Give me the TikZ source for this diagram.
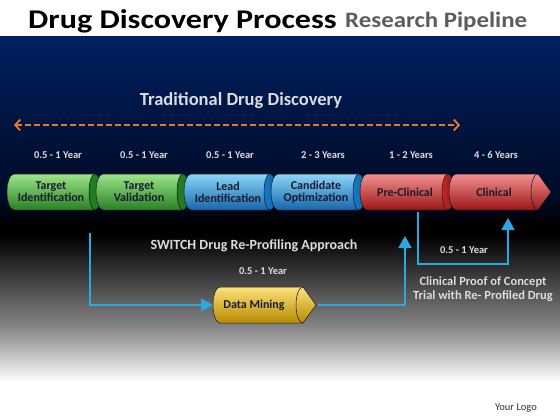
\documentclass[tikz,border=0pt]{standalone}
\usepackage{fontspec}
\setmainfont{Carlito}
\usetikzlibrary{arrows.meta,calc}
\definecolor{navy}{HTML}{002060}
\definecolor{navydark}{HTML}{000A24}
\definecolor{midgray}{HTML}{8A8A8A}
\definecolor{lighttext}{HTML}{DCDCDC}
\definecolor{cyltxt}{HTML}{1A1A30}
\definecolor{orangeline}{HTML}{E8792A}
\definecolor{bluelink}{HTML}{2AA9E1}
\definecolor{cylline}{HTML}{101820}
% colour schemes
\definecolor{grtop}{HTML}{9BE68A}\definecolor{grmid}{HTML}{5CC94A}\definecolor{grbot}{HTML}{2A7F24}\definecolor{grface}{HTML}{1E7A1E}
\definecolor{bltop}{HTML}{8AD6FA}\definecolor{blmid}{HTML}{3AA6E6}\definecolor{blbot}{HTML}{1766A8}\definecolor{blface}{HTML}{1478C8}
\definecolor{rdtop}{HTML}{F49090}\definecolor{rdmid}{HTML}{DE4040}\definecolor{rdbot}{HTML}{9A1616}\definecolor{rdface}{HTML}{C42626}
\definecolor{ydtop}{HTML}{FBE27A}\definecolor{ydmid}{HTML}{EDBB1E}\definecolor{ydbot}{HTML}{B88A00}\definecolor{ydface}{HTML}{E3AE12}
\newcommand{\cylseg}[4]{% x1, x2, cy, scheme
  \path[top color=#4top, middle color=#4mid, bottom color=#4bot, draw=cylline, line width=0.5pt]
    (#1+7,#3-18) -- (#2,#3-18) arc[start angle=-90,end angle=90,x radius=6,y radius=18]
    -- (#1+7,#3+18) arc[start angle=90,end angle=270,x radius=7,y radius=18] -- cycle;
  \path[left color=#4face, right color=#4bot, draw=cylline, line width=0.5pt] (#2,#3) ellipse[x radius=6,y radius=18];
}
\newcommand{\cylpoint}[4]{% x1, x2, cy, scheme
  \path[top color=#4top, middle color=#4mid, bottom color=#4bot, draw=cylline, line width=0.5pt]
    (#1+7,#3-18) -- (#2+3,#3-18) -- (#2+16,#3) -- (#2+3,#3+18)
    -- (#1+7,#3+18) arc[start angle=90,end angle=270,x radius=7,y radius=18] -- cycle;
  \draw[cylline, line width=0.5pt] (#2+3,#3-18) arc[start angle=-90,end angle=-270,x radius=7,y radius=18];
}
\tikzset{
  cyltext/.style={text=cyltxt, font=\bfseries\fontsize{12}{12}\selectfont, align=center, inner sep=0pt},
  yeartext/.style={text=lighttext, font=\bfseries\fontsize{10.5}{12}\selectfont, inner sep=0pt, anchor=base},
  bluelinkstyle/.style={draw=bluelink, line width=1.8pt, -{Triangle[length=12pt,width=13pt]}},
  orangedash/.style={draw=orangeline, line width=1.8pt, dash pattern=on 6pt off 3pt,
     {Straight Barb[length=5pt,width=11pt,line width=1.8pt]}-{Straight Barb[length=5pt,width=11pt,line width=1.8pt]}},
  bodytext/.style={anchor=base, inner sep=0pt, text=lighttext},
}
\begin{document}
\begin{tikzpicture}[x=1pt,y=-1pt]
\useasboundingbox (0,0) rectangle (560,420);
% background
\fill[white] (0,0) rectangle (560,420);
\path[top color=navy, bottom color=navydark] (0,37) rectangle (560,200);
\path[top color=navydark, bottom color=black] (0,199.5) rectangle (560,225);
\path[top color=black, bottom color=black] (0,224.5) rectangle (560,236);
\path[top color=black, bottom color=midgray] (0,235.5) rectangle (560,330);
\path[top color=midgray, bottom color=white] (0,329.5) rectangle (560,382);
% title
\node[anchor=base west, inner sep=0pt, font=\bfseries\fontsize{27}{30}\selectfont] (title) at (28,29)
  {\scalebox{1.19}[1]{Drug Discovery Process}};
\node[anchor=base west, inner sep=0pt, text=black!64, font=\bfseries\fontsize{22}{26}\selectfont] (subtitle) at (345,28)
  {\scalebox{1.13}[1]{Research Pipeline}};
% traditional
\node[bodytext, font=\bfseries\fontsize{18.5}{20}\selectfont] (trad) at (241,106) {Traditional Drug Discovery};
\coordinate (dashL) at (14,125);
\coordinate (dashR) at (460,125);
\draw[orangedash] (dashL) -- (dashR);
% year labels
\node[yeartext] (y1) at (58,158) {0.5 - 1 Year};
\node[yeartext] (y2) at (144,158) {0.5 - 1 Year};
\node[yeartext] (y3) at (230,158) {0.5 - 1 Year};
\node[yeartext] (y4) at (323,158) {2 - 3 Years};
\node[yeartext] (y5) at (411,158) {1 - 2 Years};
\node[yeartext] (y6) at (496,158) {4 - 6 Years};
% cylinders
\cylseg{7}{95}{192}{gr}
\cylseg{96}{183}{192}{gr}
\cylseg{184}{270}{192}{bl}
\cylseg{271}{359}{192}{bl}
\cylseg{360}{448}{192}{rd}
\cylpoint{449}{535}{192}{rd}
\node[cyltext] (ti) at (51,192) {Target\\Identification};
\node[cyltext] (tv) at (139,192) {Target\\Validation};
\node[cyltext] (li) at (228,192) {Lead\\Identification};
\node[cyltext] (co) at (316,192) {Candidate\\Optimization};
\node[cyltext] (pc) at (405,192) {Pre-Clinical};
\node[cyltext] (cl) at (494,192) {Clinical};
% switch
\node[bodytext, font=\bfseries\fontsize{14}{16}\selectfont] (sw) at (254,249) {SWITCH Drug Re-Profiling Approach};
\node[yeartext] (y7) at (263,274) {0.5 - 1 Year};
\node[yeartext] (y8) at (464,253) {0.5 - 1 Year};
\node[bodytext, font=\bfseries\fontsize{12.5}{14}\selectfont] (cp) at (483,285) {Clinical Proof of Concept};
\node[bodytext, font=\bfseries\fontsize{12.5}{14}\selectfont] (cp2) at (483,299) {Trial with Re- Profiled Drug};
% data mining
\cylpoint{213}{300}{305}{yd}
\node[cyltext] (dm) at (254,305) {Data Mining};
% blue connectors
\coordinate (s1) at (90,233);
\coordinate (dmL) at (213,305);
\coordinate (dmR) at (318,305);
\coordinate (pcIn) at (405,236);
\coordinate (pcOut) at (418,212);
\coordinate (clIn) at (508,218);
\draw[bluelinkstyle] (s1) |- (dmL);
\draw[bluelinkstyle] (dmR) -| (pcIn);
\draw[bluelinkstyle] (pcOut) -- ++(0,52) -| (clIn);
% logo
\node[anchor=base, inner sep=0pt, text=black!80, font=\fontsize{10.5}{12}\selectfont] (logo) at (516,410) {Your Logo};
\end{tikzpicture}
\end{document}
